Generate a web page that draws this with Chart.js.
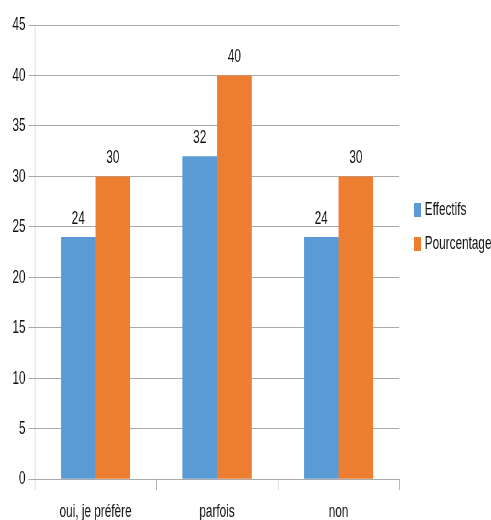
<!DOCTYPE html>
<html>
<head>
<meta charset="utf-8">
<script src="https://cdn.jsdelivr.net/npm/chart.js@4/dist/chart.umd.min.js"></script>
<style>
  html, body { margin: 0; padding: 0; background: #ffffff; overflow: hidden; }
  #frame { width: 491px; height: 520px; overflow: hidden; position: relative; }
  /* narrow lettering: the chart is drawn wide and condensed horizontally;
     the category labels run slightly past the bottom edge */
  #inner { width: 792px; height: 533px; transform: scaleX(0.62); transform-origin: 0 0; }
</style>
</head>
<body>
<div id="frame"><div id="inner"><canvas id="c" width="792" height="533"></canvas></div></div>
<script>
// Réponses et valeurs
const categories = ["oui, je préfère", "parfois", "non"];
const effectifs = [24, 32, 24];
const pourcentage = [30, 40, 30];
const yTicks = [0, 5, 10, 15, 20, 25, 30, 35, 40, 45];

const FONT = "'Liberation Sans', Arial, sans-serif";
const SIZE = 19;
const TEXT = "#111111";
const GRID = "#a9a9a9";

// Valeur affichée au-dessus de chaque barre
const valueLabels = {
  id: "valueLabels",
  afterDatasetsDraw(chart) {
    const ctx = chart.ctx;
    ctx.save();
    ctx.font = SIZE + "px " + FONT;
    ctx.fillStyle = TEXT;
    ctx.textAlign = "center";
    ctx.textBaseline = "alphabetic";
    chart.data.datasets.forEach((ds, i) => {
      const meta = chart.getDatasetMeta(i);
      meta.data.forEach((bar, j) => {
        ctx.fillText(String(ds.data[j]), bar.x, bar.y - 13);
      });
    });
    ctx.restore();
  }
};

// Légende à droite de la zone de tracé
const sideLegend = {
  id: "sideLegend",
  afterDraw(chart) {
    const ctx = chart.ctx;
    const area = chart.chartArea;
    const x0 = area.right + 24;
    const yMid = 227;
    const step = 34;
    const n = chart.data.datasets.length;
    ctx.save();
    ctx.font = SIZE + "px " + FONT;
    ctx.textBaseline = "middle";
    ctx.textAlign = "left";
    chart.data.datasets.forEach((ds, i) => {
      const y = yMid + (i - (n - 1) / 2) * step;
      ctx.fillStyle = ds.backgroundColor;
      ctx.fillRect(x0, y - 7, 11, 14);
      ctx.fillStyle = TEXT;
      ctx.fillText(ds.label, x0 + 17, y);
    });
    ctx.restore();
  }
};

new Chart(document.getElementById("c"), {
  type: "bar",
  data: {
    labels: categories,
    datasets: [
      { label: "Effectifs", data: effectifs, backgroundColor: "#5B9BD5" },
      { label: "Pourcentage", data: pourcentage, backgroundColor: "#ED7D31" }
    ]
  },
  options: {
    responsive: false,
    animation: false,
    devicePixelRatio: 1,
    layout: { padding: { top: 25, right: 148, bottom: 0, left: 15 } },
    datasets: { bar: { categoryPercentage: 0.57, barPercentage: 1.0 } },
    scales: {
      x: {
        grid: {
          display: true,
          drawOnChartArea: false,
          offset: true,
          color: GRID,
          tickLength: 11
        },
        border: { display: true, color: GRID },
        ticks: {
          font: { family: FONT, size: SIZE },
          color: TEXT,
          padding: 10,
          autoSkip: false,
          maxRotation: 0,
          minRotation: 0
        }
      },
      y: {
        min: 0,
        max: 45,
        afterBuildTicks(axis) { axis.ticks = yTicks.map(v => ({ value: v })); },
        grid: { color: GRID, tickLength: 10 },
        border: { display: true, color: GRID },
        ticks: { font: { family: FONT, size: SIZE }, color: TEXT, padding: 5 }
      }
    },
    plugins: {
      legend: { display: false },
      tooltip: { enabled: false }
    }
  },
  plugins: [valueLabels, sideLegend]
});
</script>
</body>
</html>
